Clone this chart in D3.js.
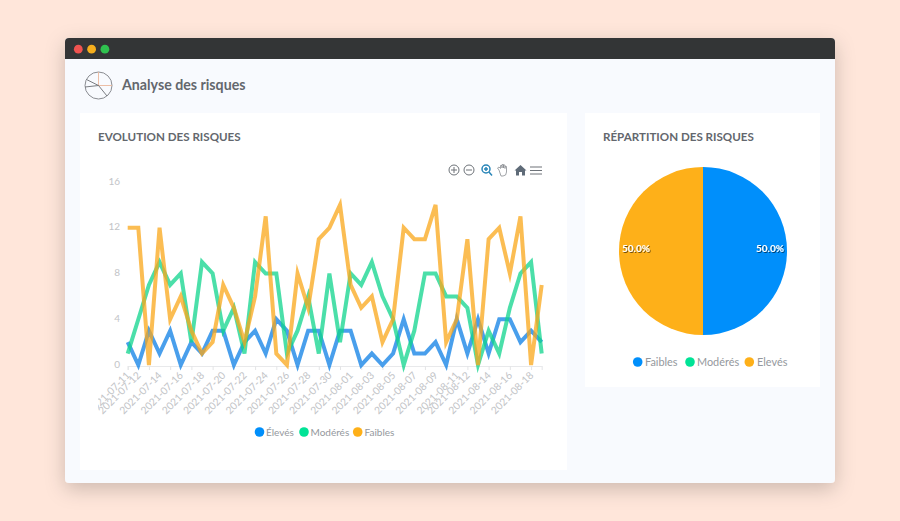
<!DOCTYPE html>
<html lang="fr">
<head>
<meta charset="utf-8">
<title>Analyse des risques</title>
<script src="https://cdn.jsdelivr.net/npm/d3@7/dist/d3.min.js"></script>
<style>
  html, body { margin: 0; padding: 0; background: #ffe6da; }
  svg { display: block; font-family: Lato, "Noto Sans", sans-serif; }
</style>
</head>
<body>
<svg id="page" width="900" height="521"></svg>
<script>
// Daily risk counts, starting on 2021-07-11
const startDate = "2021-07-11";
const eleves = [2,0,3,1,3,0,2,1,3,3,0,2,3,1,4,3,0,3,3,0,3,3,0,1,0,1,4,1,1,2,0,4,1,4,1,4,4,2,3,2];
const moderes = [1,4,7,9,7,8,2,9,8,3,5,1,9,8,8,1,3,6,1,8,2,8,7,9,6,4,0,3,8,8,6,6,5,0,3,1,5,8,9,1];
const faibles = [12,12,0,12,4,6,3,1,2,7,5,2,6,13,1,0,8,5,11,12,14,7,5,6,2,4,12,11,11,14,2,4,11,0,11,12,8,13,0,7];

const seriesNames = ["Élevés", "Modérés", "Faibles"];
const seriesColors = ["#008ffb", "#00e396", "#feb019"];
const lineColors = ["#0c7fe6", "#0fd48c", "#f9a71a"];
const yTicks = [0, 4, 8, 12, 16];
const xLabelDates = ["2021-07-11","2021-07-12","2021-07-14","2021-07-16","2021-07-18","2021-07-20","2021-07-22","2021-07-24","2021-07-26","2021-07-28","2021-07-30","2021-08-01","2021-08-03","2021-08-05","2021-08-07","2021-08-09","2021-08-11","2021-08-12","2021-08-14","2021-08-16","2021-08-18"];
const xMarkDates = ["2021-07-11","2021-07-13","2021-07-15","2021-07-17","2021-07-19","2021-07-21","2021-07-23","2021-07-25","2021-07-27","2021-07-29","2021-07-31","2021-08-02","2021-08-04","2021-08-06","2021-08-08","2021-08-10","2021-08-12","2021-08-14","2021-08-16","2021-08-18"];

const pieNames = ["Faibles", "Modérés", "Elevés"];
const pieValues = [50, 0, 50];
const pieColors = ["#008ffb", "#00e396", "#feb019"];

const svg = d3.select("#page");
const ink = "#63676d";
const muted = "#c2c4c7";
const defs = svg.append("defs");

// Window frame with its soft drop shadow
const shadow = defs.append("filter").attr("id", "frameShadow")
  .attr("x", "-10%").attr("y", "-10%").attr("width", "120%").attr("height", "125%");
shadow.append("feDropShadow").attr("dx", 0).attr("dy", 6).attr("stdDeviation", 10)
  .attr("flood-color", "#000").attr("flood-opacity", 0.2);

svg.append("rect").attr("x", 65).attr("y", 38).attr("width", 770).attr("height", 445)
  .attr("rx", 4).attr("fill", "#f8fafe").attr("filter", "url(#frameShadow)");
svg.append("path").attr("d", "M65 59V42a4 4 0 0 1 4-4H831a4 4 0 0 1 4 4V59Z").attr("fill", "#333536");
svg.selectAll("circle.light").data(["#ef5350", "#f5ae1d", "#2fc14f"]).join("circle")
  .attr("class", "light").attr("cx", (d, i) => 78.3 + i * 13.3).attr("cy", 49.2).attr("r", 4.4).attr("fill", d => d);

// Page heading and its small pie emblem
const emblem = svg.append("g").attr("transform", "translate(98.5,85.5)").attr("fill", "none");
emblem.append("circle").attr("r", 13.5).attr("stroke", "#7d7f85").attr("stroke-width", 0.9);
emblem.append("path").attr("d", "M0 -13.5V0H13.5").attr("stroke", "#eab79c").attr("stroke-width", 0.9);
emblem.append("path").attr("d", "M-12 -6L0 0L8.5 10.5M0 0L-13.4 1.5").attr("stroke", "#6c6e74").attr("stroke-width", 0.9);
svg.append("text").attr("x", 122).attr("y", 90).attr("font-size", 14.2).attr("font-weight", 700)
  .attr("fill", ink).text("Analyse des risques");

// Cards
const cards = [
  { x: 80, y: 113, w: 487, h: 357, title: "EVOLUTION DES RISQUES", tx: 98 },
  { x: 585, y: 113, w: 235, h: 274, title: "RÉPARTITION DES RISQUES", tx: 603 }
];
svg.selectAll("rect.card").data(cards).join("rect").attr("class", "card")
  .attr("x", d => d.x).attr("y", d => d.y).attr("width", d => d.w).attr("height", d => d.h)
  .attr("fill", "#fff");
svg.selectAll("text.cardTitle").data(cards).join("text").attr("class", "cardTitle")
  .attr("x", d => d.tx).attr("y", 140.5).attr("font-size", 11.6).attr("font-weight", 700)
  .attr("fill", ink).text(d => d.title);

// Line chart
const parse = d3.utcParse("%Y-%m-%d");
const start = parse(startDate);
const dates = eleves.map((_, i) => d3.utcDay.offset(start, i));
const x = d3.scaleUtc().domain([dates[0], dates[dates.length - 1]]).range([127.7, 541.7]);
const y = d3.scaleLinear().domain([0, 16]).range([365, 182]);

const xMarks = svg.append("g").attr("transform", "translate(0,366)")
  .call(d3.axisBottom(x).tickValues(xMarkDates.map(parse)).tickSize(4).tickFormat(""));
xMarks.selectAll("line").attr("stroke", "#e4e5e7");
xMarks.select(".domain").attr("stroke", "#e8e9eb").attr("stroke-width", 1.2);

// The first date label runs past the plot's left margin and is cut there
defs.append("clipPath").attr("id", "labelClip").append("rect")
  .attr("x", 98).attr("y", 366).attr("width", 460).attr("height", 60);
const xLabels = svg.append("g").attr("clip-path", "url(#labelClip)").append("g")
  .attr("transform", "translate(0,366)")
  .call(d3.axisBottom(x).tickValues(xLabelDates.map(parse)).tickSize(0).tickFormat(d3.utcFormat("%Y-%m-%d")));
xLabels.select(".domain").remove();
xLabels.selectAll("text")
  .attr("font-family", "Lato, sans-serif").attr("font-size", 10.2).attr("fill", muted)
  .attr("text-anchor", "end").attr("dy", 0).attr("y", 0)
  .attr("transform", "translate(2.5,10) rotate(-45)");

const yAxis = svg.append("g").attr("transform", "translate(124,0)")
  .call(d3.axisLeft(y).tickValues(yTicks).tickSize(0).tickPadding(4));
yAxis.select(".domain").remove();
yAxis.selectAll("text").attr("font-family", "Lato, sans-serif").attr("font-size", 10).attr("fill", muted)
  .attr("dy", "0.2em");

const line = d3.line().x((d, i) => x(dates[i])).y(d => y(d));
svg.append("g").selectAll("path").data([eleves, moderes, faibles]).join("path")
  .attr("d", line).attr("fill", "none")
  .attr("stroke", (d, i) => lineColors[i]).attr("stroke-width", 4)
  .attr("stroke-opacity", 0.75).attr("stroke-linejoin", "miter").attr("stroke-miterlimit", 5);

// Toolbar of the line chart
const tool = svg.append("g").attr("fill", "none").attr("stroke", "#6e7379").attr("stroke-width", 1);
[454, 469].forEach((cx, i) => {
  tool.append("circle").attr("cx", cx).attr("cy", 170).attr("r", 5);
  tool.append("path").attr("d", i === 0
    ? `M${cx - 3} 170H${cx + 3}M${cx} 167V173`
    : `M${cx - 3} 170H${cx + 3}`);
});
tool.append("circle").attr("cx", 486).attr("cy", 169).attr("r", 4).attr("stroke", "#2a86b8").attr("stroke-width", 1.5);
tool.append("path").attr("d", "M489 172L492 175.5M484 169H488M486 167V171").attr("stroke", "#2a86b8").attr("stroke-width", 1.5);
tool.append("path").attr("d", "M499 170L497.5 168L499 167L500.5 168.5V165.5H502V168V164.5H503.5V168V165H505V168.5V166.5H506.5V172Q506.5 176 503 176H501Z")
  .attr("stroke", "#8a8e93").attr("stroke-width", 0.8);
tool.append("path").attr("d", "M520.5 165L526.5 170.5H525V175.5H522V172H519V175.5H516V170.5H514.5Z")
  .attr("fill", "#5f6b78").attr("stroke", "none");
tool.append("path").attr("d", "M530 167H542M530 170.5H542M530 174H542").attr("stroke-width", 1.2);

// Shared legend drawing: one dot plus its name per entry
function legend(names, colors, dots, labels, cy, size) {
  const g = svg.append("g");
  g.selectAll("circle").data(names).join("circle")
    .attr("cx", (d, i) => dots[i]).attr("cy", cy).attr("r", 4.8).attr("fill", (d, i) => colors[i]);
  g.selectAll("text").data(names).join("text")
    .attr("x", (d, i) => labels[i]).attr("y", cy + 3.7).attr("font-size", size)
    .attr("fill", "#94989d").text(d => d);
}
legend(seriesNames, seriesColors, [259.5, 304, 357.7], [266, 310.5, 364.5], 432, 10);
legend(pieNames, pieColors, [637.7, 690, 749.3], [645, 697, 757], 362, 10.9);

// Pie chart
const pieCx = 703, pieCy = 251, pieR = 84;
const pieGroup = svg.append("g").attr("transform", `translate(${pieCx},${pieCy})`);
const slices = d3.pie().sort(null)(pieValues);
pieGroup.selectAll("path").data(slices).join("path")
  .attr("d", d3.arc().innerRadius(0).outerRadius(pieR))
  .attr("fill", (d, i) => pieColors[i]);

const textShadow = defs.append("filter").attr("id", "labelShadow")
  .attr("x", "-20%").attr("y", "-30%").attr("width", "140%").attr("height", "160%");
textShadow.append("feDropShadow").attr("dx", 1).attr("dy", 1).attr("stdDeviation", 0.6)
  .attr("flood-color", "#000").attr("flood-opacity", 0.55);

const total = d3.sum(pieValues);
pieGroup.selectAll("text").data(slices.filter(d => d.value > 0)).join("text")
  .attr("x", d => (d.startAngle < Math.PI ? 67 : -67)).attr("y", 0.7)
  .attr("text-anchor", "middle").attr("font-size", 10).attr("font-weight", 700)
  .attr("fill", "#fff").attr("filter", "url(#labelShadow)")
  .text(d => d3.format(".1%")(d.value / total));
</script>
</body>
</html>
